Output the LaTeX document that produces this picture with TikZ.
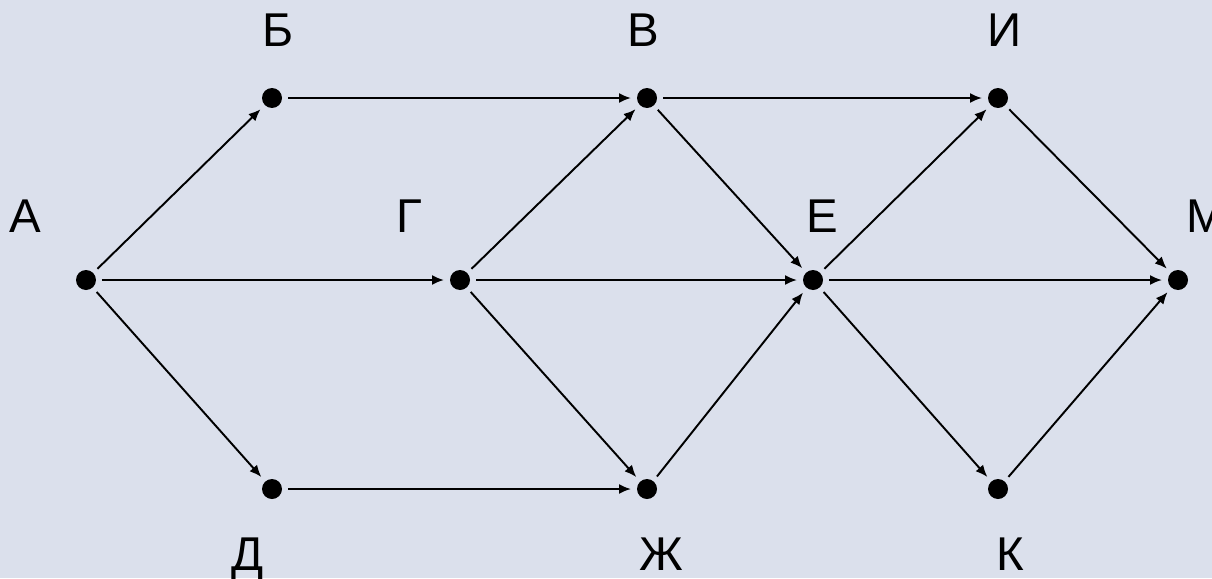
\documentclass[tikz,border=0pt]{standalone}
\usepackage{fontspec}
\setmainfont{Liberation Sans}
\usetikzlibrary{arrows.meta}
\definecolor{bgblue}{RGB}{219,224,236}
\tikzset{
  vertex/.style={circle, fill=black, inner sep=0pt, minimum size=0.4cm, outer sep=0.12cm},
  lbl/.style={anchor=base, font=\fontsize{27}{30}\selectfont},
  arc/.style={->, line width=1.1pt}
}
\begin{document}
\begin{tikzpicture}[x=0.02cm, y=-0.02cm, >={Latex[length=0.24cm,width=0.2cm]}]
    % Фон
    \fill[bgblue] (0,0) rectangle (1212,578);
    \useasboundingbox (0,0) rectangle (1212,578);

    % Вершины
    \node[vertex] (A)  at (86,280)  {};
    \node[vertex] (B)  at (272,98)  {};
    \node[vertex] (V)  at (647,98)  {};
    \node[vertex] (I)  at (998,98)  {};
    \node[vertex] (G)  at (460,280) {};
    \node[vertex] (E)  at (813,280) {};
    \node[vertex] (M)  at (1178,280) {};
    \node[vertex] (D)  at (272,489) {};
    \node[vertex] (Zh) at (647,489) {};
    \node[vertex] (K)  at (998,489) {};

    % Подписи
    \node[lbl] (A-l)  at (25,232)   {А};
    \node[lbl] (B-l)  at (278,46)   {Б};
    \node[lbl] (V-l)  at (643,46)   {В};
    \node[lbl] (I-l)  at (1005,46)  {И};
    \node[lbl] (G-l)  at (409,232)  {Г};
    \node[lbl] (E-l)  at (822,232)  {Е};
    \node[lbl] (M-l)  at (1206,232) {М};
    \node[lbl] (D-l)  at (248,570)  {Д};
    \node[lbl] (Zh-l) at (661,570)  {Ж};
    \node[lbl] (K-l)  at (1010,570) {К};

    % Дуги графа
    \foreach \u/\v in {A/B, A/G, A/D, B/V, V/I, V/E, G/V, G/E, G/Zh,
                       D/Zh, Zh/E, E/I, E/M, E/K, I/M, K/M} {
        \draw[arc] (\u) -- (\v);
    }
\end{tikzpicture}
\end{document}
